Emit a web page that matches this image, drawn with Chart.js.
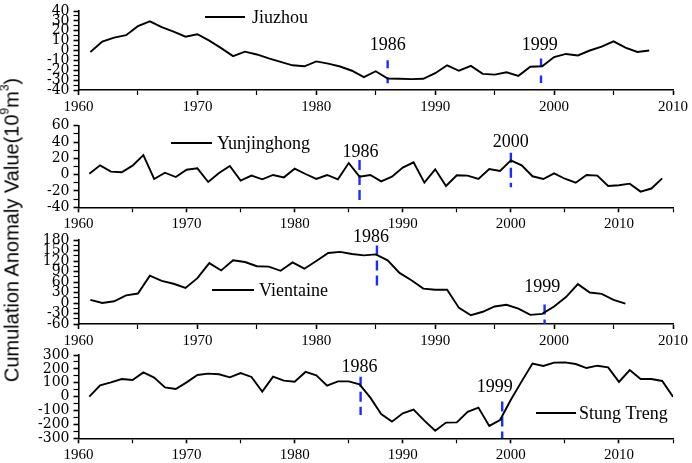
<!DOCTYPE html>
<html>
<head>
<meta charset="utf-8">
<script src="https://cdn.jsdelivr.net/npm/chart.js@4.4.0/dist/chart.umd.min.js"></script>
<style>
html,body{margin:0;padding:0;background:#fff;}
#wrap{position:relative;width:692px;height:463px;overflow:hidden;background:#fff;}
.pane{position:absolute;left:0;width:692px;}
#ytitle{position:absolute;left:12px;top:230px;transform:translate(-50%,-50%) rotate(-90deg);white-space:nowrap;
  font-family:"Liberation Sans Narrow","Liberation Sans",Arial,sans-serif;font-size:20px;color:#000;z-index:5;}
#ytitle sup{font-size:12px;vertical-align:top;position:relative;top:-3px;}
</style>
</head>
<body>
<div id="wrap">
  <div class="pane" style="top:0px;height:116px;"><canvas id="c1"></canvas></div>
  <div class="pane" style="top:110px;height:123px;"><canvas id="c2"></canvas></div>
  <div class="pane" style="top:224px;height:126px;"><canvas id="c3"></canvas></div>
  <div class="pane" style="top:340px;height:124px;"><canvas id="c4"></canvas></div>
  <div id="ytitle">Cumulation Anomaly Value(10<sup>9</sup>m<sup>3</sup>)</div>
</div>
<script>
// ---------- DATA ----------
const years = [1961,1962,1963,1964,1965,1966,1967,1968,1969,1970,
               1971,1972,1973,1974,1975,1976,1977,1978,1979,1980,
               1981,1982,1983,1984,1985,1986,1987,1988,1989,1990,
               1991,1992,1993,1994,1995,1996,1997,1998,1999,2000,
               2001,2002,2003,2004,2005,2006,2007,2008,2009,2010,
               2011,2012,2013,2014,2015];

const jiuzhouName = 'Jiuzhou';
const jiuzhou = [-1.5, 9, 13, 15.5, 24.6, 29.5, 23.7, 19, 14, 16.5,
                 10, 2.4, -5.7, -1.2, -4, -8, -11.6, -15, -16, -11,
                 -13.3, -16.2, -20.5, -27, -21, -28.3, -28.6, -29, -28.6, -23,
                 -15, -20.5, -15.6, -23.7, -24.4, -22, -25.7, -16.5, -16, -6.7,
                 -3.5, -5, 0, 4, 9.3, 3, -1.5, 0];

const yunjinghongName = 'Yunjinghong';
const yunjinghong = [1, 11.4, 3.7, 2.9, 11, 24, -5.3, 2.4, -2.9, 6,
                     7.8, -9, 2, 10.6, -7.3, -1.2, -5.7, -0.4, -3.3, 7.3,
                     0.8, -5.3, -0.4, -5.7, 14.3, -2.4, -0.4, -8.2, -2.4, 8.6,
                     15.1, -9.8, 6.5, -13.9, -0.8, -1.2, -5.3, 7, 4.5, 17.6,
                     11.4, -2, -5.3, 1.6, -5, -9.8, -0.4, -1.2, -13.9, -13,
                     -11, -20.8, -17, -4.5];

const vientaineName = 'Vientaine';
const vientaine = [9, 0, 5, 22, 27, 78, 63, 55, 43, 71,
                   114, 93, 122, 117, 105, 104, 92, 116, 98, 120,
                   143, 146, 140, 136, 139, 122, 86, 65, 41, 38,
                   38, -14, -35, -25, -10, -5, -16, -34, -31, -10,
                   17, 54, 30, 26, 9, -2];

const stungTrengName = 'Stung Treng';
const stungTreng = [0, 82, 103, 127, 120, 175, 137, 67, 55, 103,
                    156, 166, 161, 139, 170, 142, 36, 144, 115, 108,
                    178, 154, 79, 110, 110, 89, -7, -125, -180, -120,
                    -94, -173, -245, -187, -185, -110, -79, -211, -168, -22,
                    110, 238, 221, 245, 247, 235, 206, 223, 211, 106,
                    192, 127, 127, 113, 0];

// change-point markers (year, top value, bottom value) and their labels
const jiuzhouBreakYears   = [1986, 1998.9];
const jiuzhouBreakTop     = [-9.8, -8];
const jiuzhouBreakBottom  = [-33.2, -32.9];
const jiuzhouBreakLabels  = ['1986', '1999'];

const yunBreakYears       = [1986, 2000];
const yunBreakTop         = [18, 27];
const yunBreakBottom      = [-31, -15.5];
const yunBreakLabels      = ['1986', '2000'];

const vienBreakYears      = [1985.1, 1999.2];
const vienBreakTop        = [164, -4];
const vienBreakBottom     = [42, -60];
const vienBreakLabels     = ['1986', '1999'];

const stungBreakYears     = [1986.1, 1999.2];
const stungBreakTop       = [144, -35];
const stungBreakBottom    = [-132, -300];
const stungBreakLabels    = ['1986', '1999'];

// ---------- DRAWING ----------
Chart.defaults.font.family = 'Liberation Serif';
Chart.defaults.color = '#000';

const textPlugin = {
  id: 'panelText',
  afterDraw(chart, args, opts) {
    const ctx = chart.ctx, xs = chart.scales.x, ys = chart.scales.y;
    ctx.save();
    ctx.fillStyle = '#000';
    ctx.font = '18px "Liberation Serif"';
    ctx.textBaseline = 'middle';
    ctx.textAlign = 'center';
    (opts.notes || []).forEach(n => {
      ctx.fillText(n.text, xs.getPixelForValue(n.x), ys.getPixelForValue(n.y));
    });
    const lg = opts.legend;
    if (lg) {
      ctx.strokeStyle = '#000';
      ctx.lineWidth = 2;
      ctx.beginPath();
      ctx.moveTo(lg.x, lg.y);
      ctx.lineTo(lg.x + lg.len, lg.y);
      ctx.stroke();
      ctx.textAlign = 'left';
      ctx.fillText(lg.text, lg.x + lg.len + lg.gap, lg.y + 1);
    }
    ctx.restore();
  }
};

function makePanel(id, p) {
  const series = {
    data: p.values.map((v, i) => ({x: years[i], y: v})),
    borderColor: '#000', borderWidth: 1.9, pointRadius: 0, tension: 0, fill: false
  };
  const markers = p.breakYears.map((yr, i) => ({
    data: [{x: yr, y: p.breakTop[i]}, {x: yr, y: p.breakBottom[i]}],
    borderColor: '#1a2cff', borderWidth: 2.4, borderDash: p.dash, pointRadius: 0, fill: false
  }));
  new Chart(document.getElementById(id), {
    type: 'line',
    data: {datasets: [series, ...markers]},
    options: {
      responsive: true, maintainAspectRatio: false, animation: false,
      layout: {padding: {left: 0, right: 19, top: p.padTop, bottom: p.padBottom}},
      plugins: {
        legend: {display: false}, tooltip: {enabled: false},
        panelText: {notes: p.notes, legend: p.legend}
      },
      scales: {
        x: {
          type: 'linear', min: 1960, max: p.xMax,
          border: {display: true, color: '#000', width: 1.6},
          grid: {drawOnChartArea: false, drawTicks: true, tickLength: 5, tickColor: '#000',
                 tickWidth: c => (c.tick && c.tick.value % 10 === 0) ? 1.6 : 1.2},
          ticks: {stepSize: 5, autoSkip: false, maxRotation: 0, padding: 3, color: '#000',
                  font: {family: 'Liberation Serif', size: 15},
                  callback: v => (v % 10 === 0 ? String(v) : '')},
          afterFit(s) { s.height = 25; }
        },
        y: {
          type: 'linear', min: p.yMin, max: p.yMax,
          border: {display: true, color: '#000', width: 1.6},
          grid: {drawOnChartArea: false, drawTicks: true, tickLength: 5, tickColor: '#000',
                 tickWidth: c => (c.tick && c.tick.value % p.yMajor === 0) ? 1.6 : 1.2},
          ticks: {stepSize: p.yMinor, autoSkip: false, padding: 4, color: '#000',
                  font: {family: 'DejaVu Serif', size: 14, lineHeight: 1},
                  callback: v => (v % p.yMajor === 0 ? String(v) : '')},
          afterFit(s) { s.width = 78.5; }
        }
      }
    },
    plugins: [textPlugin]
  });
}

makePanel('c1', {
  values: jiuzhou, xMax: 2010, yMin: -40, yMax: 40, yMajor: 10, yMinor: 5,
  padTop: 8, padBottom: 1, dash: [8, 9],
  breakYears: jiuzhouBreakYears, breakTop: jiuzhouBreakTop, breakBottom: jiuzhouBreakBottom,
  notes: [{text: jiuzhouBreakLabels[0], x: 1986, y: 5.8}, {text: jiuzhouBreakLabels[1], x: 1998.8, y: 5.8}],
  legend: {text: jiuzhouName, x: 205, y: 17, len: 40, gap: 7}
});

makePanel('c2', {
  values: yunjinghong, xMax: 2015, yMin: -40, yMax: 60, yMajor: 20, yMinor: 10,
  padTop: 15.7, padBottom: 0.7, dash: [10, 5],
  breakYears: yunBreakYears, breakTop: yunBreakTop, breakBottom: yunBreakBottom,
  notes: [{text: yunBreakLabels[0], x: 1986.1, y: 27.8}, {text: yunBreakLabels[1], x: 2000, y: 39.2}],
  legend: {text: yunjinghongName, x: 171, y: 33, len: 41, gap: 5}
});

makePanel('c3', {
  values: vientaine, xMax: 2010, yMin: -60, yMax: 180, yMajor: 30, yMinor: 15,
  padTop: 16, padBottom: 1, dash: [10, 5],
  breakYears: vienBreakYears, breakTop: vienBreakTop, breakBottom: vienBreakBottom,
  notes: [{text: vienBreakLabels[0], x: 1984.6, y: 187.7}, {text: vienBreakLabels[1], x: 1999, y: 45}],
  legend: {text: vientaineName, x: 212, y: 66, len: 42, gap: 5}
});

makePanel('c4', {
  values: stungTreng, xMax: 2015, yMin: -300, yMax: 300, yMajor: 100, yMinor: 50,
  padTop: 15, padBottom: 0.7, dash: [10, 5],
  breakYears: stungBreakYears, breakTop: stungBreakTop, breakBottom: stungBreakBottom,
  notes: [{text: stungBreakLabels[0], x: 1986, y: 211}, {text: stungBreakLabels[1], x: 1998.5, y: 65}],
  legend: {text: stungTrengName, x: 536, y: 73, len: 40, gap: 3}
});
</script>
</body>
</html>
